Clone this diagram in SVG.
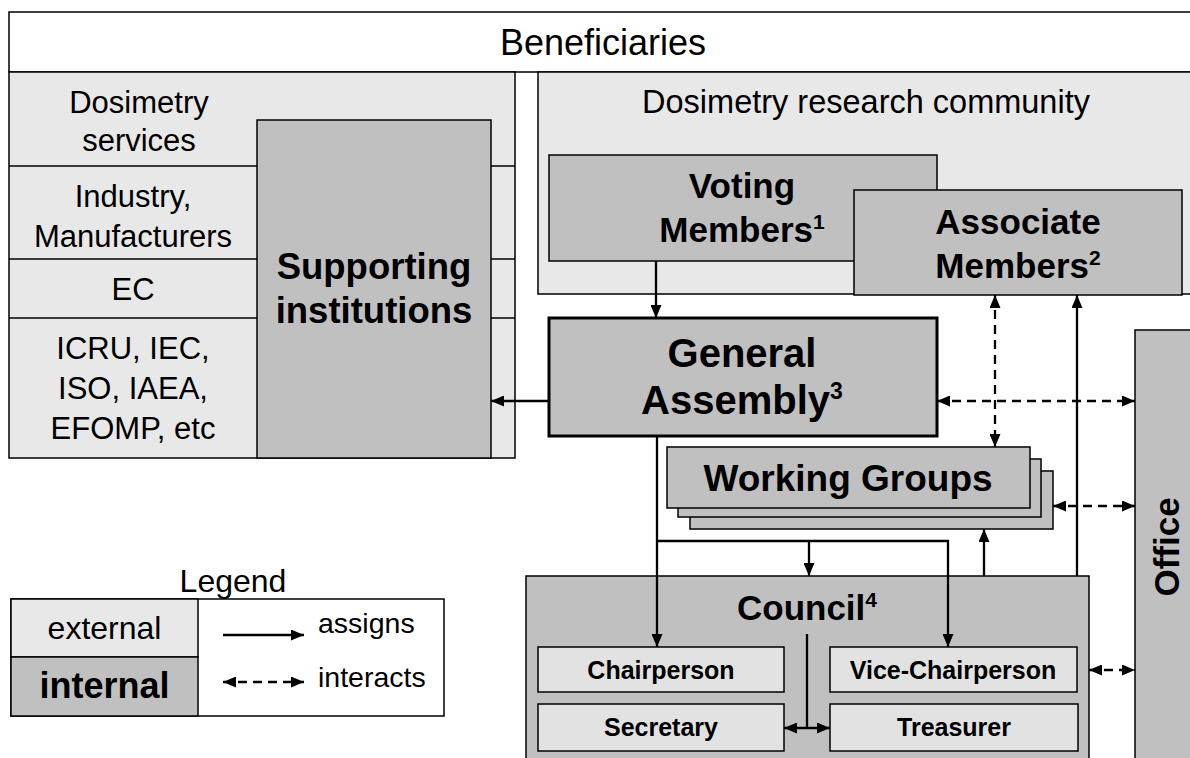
<svg xmlns="http://www.w3.org/2000/svg" width="1190" height="758" viewBox="0 0 1190 758">
<style>
  text { font-family: "Liberation Sans", Arial, sans-serif; fill: #000; }
  .ext { fill: #e8e8e8; stroke: #000; stroke-width: 1.5; }
  .int { fill: #c0c0c0; stroke: #000; stroke-width: 1.5; }
  .role { fill: #e2e2e2; stroke: #000; stroke-width: 1.5; }
  .white { fill: #fff; stroke: #000; stroke-width: 1.5; }
  .t { font-size: 31px; text-anchor: middle; }
  .b { font-size: 35px; font-weight: bold; text-anchor: middle; }
  .r { font-size: 25px; font-weight: bold; text-anchor: middle; }
  .sup { font-size: 21px; }
  .solid { fill: none; stroke: #000; stroke-width: 2.3; }
  .dash { fill: none; stroke: #000; stroke-width: 2.3; stroke-dasharray: 9 6; }
</style>
<defs>
  <marker id="ah" markerUnits="userSpaceOnUse" markerWidth="13" markerHeight="11" refX="13" refY="5.5" orient="auto-start-reverse">
    <path d="M0,0 L13,5.5 L0,11 z" fill="#000"/>
  </marker>
</defs>

<g id="beneficiaries">
  <rect class="white" x="9" y="12" width="1195" height="60"/>
  <text x="603" y="55" style="font-size:36px;text-anchor:middle">Beneficiaries</text>
</g>

<g id="external-left">
  <rect class="ext" x="9" y="72" width="506" height="386"/>
  <line x1="9" y1="166" x2="515" y2="166" stroke="#000" stroke-width="1.5"/>
  <line x1="9" y1="259" x2="515" y2="259" stroke="#000" stroke-width="1.5"/>
  <line x1="9" y1="318" x2="515" y2="318" stroke="#000" stroke-width="1.5"/>
  <text class="t" x="139" y="113">Dosimetry</text>
  <text class="t" x="139" y="151">services</text>
  <text class="t" x="133" y="207">Industry,</text>
  <text class="t" x="133" y="247">Manufacturers</text>
  <text class="t" x="133" y="300">EC</text>
  <text class="t" x="133" y="359">ICRU, IEC,</text>
  <text class="t" x="133" y="399">ISO, IAEA,</text>
  <text class="t" x="133" y="439">EFOMP, etc</text>
</g>

<g id="supporting-institutions">
  <rect class="int" x="257" y="120" width="234" height="338"/>
  <text class="b" x="374" y="279" style="font-size:36.5px">Supporting</text>
  <text class="b" x="374" y="323" style="font-size:36.5px">institutions</text>
</g>

<g id="research-community">
  <rect class="ext" x="538" y="72" width="666" height="222"/>
  <text x="866" y="113" style="font-size:32.5px;text-anchor:middle">Dosimetry research community</text>
</g>

<g id="voting-members">
  <rect class="int" x="549" y="155" width="388" height="106"/>
  <text class="b" x="742" y="198">Voting</text>
  <text class="b" x="742" y="242">Members<tspan class="sup" dy="-13">1</tspan></text>
</g>

<g id="associate-members">
  <rect class="int" x="854" y="190" width="328" height="105"/>
  <text class="b" x="1018" y="234">Associate</text>
  <text class="b" x="1018" y="278">Members<tspan class="sup" dy="-13">2</tspan></text>
</g>

<g id="general-assembly">
  <rect class="int" x="549" y="318" width="388" height="118" style="stroke-width:3"/>
  <text class="b" x="742" y="367" style="font-size:40px">General</text>
  <text class="b" x="742" y="414" style="font-size:40px">Assembly<tspan class="sup" dy="-15" style="font-size:23px">3</tspan></text>
</g>

<g id="working-groups">
  <rect class="int" x="690" y="471" width="363" height="58"/>
  <rect class="int" x="678" y="459" width="363" height="58"/>
  <rect class="int" x="667" y="447" width="363" height="61"/>
  <text class="b" x="848" y="491" style="font-size:37px">Working Groups</text>
</g>

<g id="council">
  <rect class="int" x="526" y="576" width="563" height="200"/>
  <text class="b" x="807" y="620">Council<tspan class="sup" dy="-13">4</tspan></text>
</g>

<g id="chairperson">
  <rect class="role" x="538" y="647" width="246" height="45"/>
  <text class="r" x="661" y="679">Chairperson</text>
</g>
<g id="vice-chairperson">
  <rect class="role" x="830" y="647" width="247" height="45"/>
  <text class="r" x="953" y="679">Vice-Chairperson</text>
</g>
<g id="secretary">
  <rect class="role" x="538" y="704" width="246" height="47"/>
  <text class="r" x="661" y="736">Secretary</text>
</g>
<g id="treasurer">
  <rect class="role" x="830" y="704" width="248" height="47"/>
  <text class="r" x="954" y="736">Treasurer</text>
</g>

<g id="office">
  <rect class="int" x="1135" y="330" width="80" height="450"/>
  <text class="b" transform="translate(1179,547) rotate(-90)" x="0" y="0">Office</text>
</g>

<g id="connectors">
  <line class="solid" x1="656" y1="261" x2="656" y2="318" marker-end="url(#ah)"/>
  <line class="solid" x1="549" y1="401" x2="491" y2="401" marker-end="url(#ah)"/>
  <line class="dash" x1="937" y1="401" x2="1135" y2="401" marker-start="url(#ah)" marker-end="url(#ah)"/>
  <line class="dash" x1="995" y1="295" x2="995" y2="447" marker-start="url(#ah)" marker-end="url(#ah)"/>
  <line class="dash" x1="1053" y1="506" x2="1135" y2="506" marker-start="url(#ah)" marker-end="url(#ah)"/>
  <line class="dash" x1="1089" y1="670" x2="1135" y2="670" marker-start="url(#ah)" marker-end="url(#ah)"/>
  <line class="solid" x1="657" y1="436" x2="657" y2="647" marker-end="url(#ah)"/>
  <polyline class="solid" points="657,541 948,541 948,647" marker-end="url(#ah)"/>
  <line class="solid" x1="809" y1="541" x2="809" y2="576" marker-end="url(#ah)"/>
  <line class="solid" x1="984" y1="576" x2="984" y2="529" marker-end="url(#ah)"/>
  <line class="solid" x1="1077" y1="576" x2="1077" y2="295" marker-end="url(#ah)"/>
  <line class="solid" x1="807" y1="634" x2="807" y2="728"/>
  <line class="solid" x1="784" y1="728" x2="830" y2="728" marker-start="url(#ah)" marker-end="url(#ah)"/>
</g>

<g id="legend">
  <text x="233" y="592" style="font-size:32px;text-anchor:middle">Legend</text>
  <rect class="white" x="11" y="599" width="433" height="117"/>
  <rect class="ext" x="11" y="599" width="187" height="58"/>
  <rect class="int" x="11" y="657" width="187" height="59"/>
  <text x="104.5" y="639" style="font-size:32px;text-anchor:middle">external</text>
  <text x="104.5" y="698" style="font-size:36px;font-weight:bold;text-anchor:middle">internal</text>
  <line class="solid" x1="223" y1="635" x2="304" y2="635" marker-end="url(#ah)"/>
  <line class="dash" x1="223" y1="682" x2="304" y2="682" marker-start="url(#ah)" marker-end="url(#ah)"/>
  <text x="318" y="633" style="font-size:28.5px">assigns</text>
  <text x="318" y="687" style="font-size:28.5px">interacts</text>
</g>
</svg>
